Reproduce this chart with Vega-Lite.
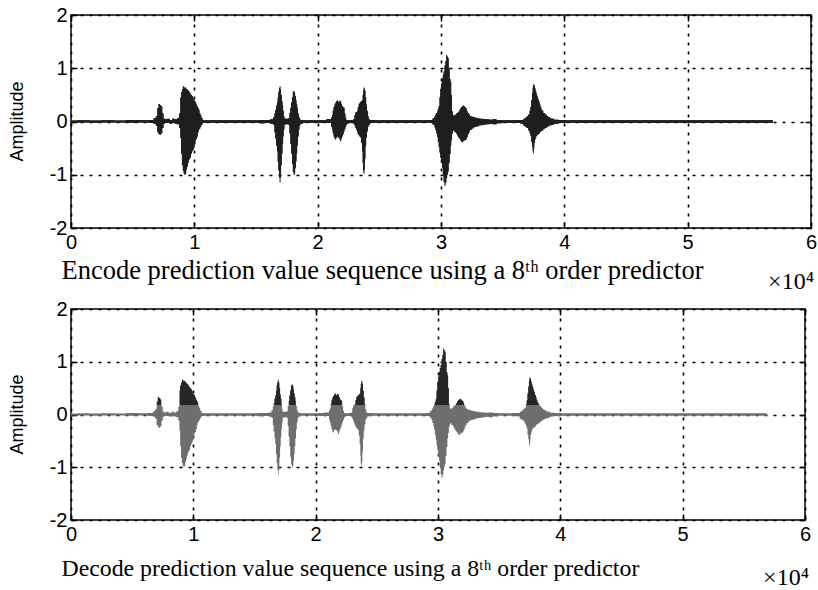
{
  "$schema": "https://vega.github.io/schema/vega-lite/v6.json",
  "background": "white",
  "padding": {"left": 7, "top": 4, "right": 0, "bottom": 0},
  "bounds": "flush",
  "spacing": 81,
  "config": {
    "view": {"stroke": "black", "strokeWidth": 1.5},
    "axis": {
      "grid": true, "gridColor": "black", "gridDash": [3, 6], "gridWidth": 1.6, "gridOpacity": 1,
      "domain": false, "ticks": true, "tickSize": -6, "tickColor": "black", "tickWidth": 1.5,
      "labelFont": "Liberation Sans", "labelFontSize": 20, "labelColor": "black", "labelPadding": 10,
      "labelFlush": false, "labelOverlap": false, "titleColor": "black", "titleFontWeight": "normal",
      "labelExpr": "replace(datum.label, '−', '-')"
    }
  },
  "datasets": {
    "sig": [
      {"x": 0.00, "hi": 0.02, "lo": -0.02, "b": 0},
      {"x": 0.10, "hi": 0.025, "lo": -0.02, "b": 0},
      {"x": 0.20, "hi": 0.02, "lo": -0.025, "b": 0},
      {"x": 0.30, "hi": 0.025, "lo": -0.02, "b": 0},
      {"x": 0.40, "hi": 0.02, "lo": -0.02, "b": 0},
      {"x": 0.50, "hi": 0.03, "lo": -0.025, "b": 0},
      {"x": 0.60, "hi": 0.025, "lo": -0.02, "b": 0},
      {"x": 0.66, "hi": 0.03, "lo": -0.03, "b": 0},
      {"x": 0.68, "hi": 0.06, "lo": -0.04, "b": 1},
      {"x": 0.695, "hi": 0.10, "lo": -0.08, "b": 1},
      {"x": 0.705, "hi": 0.25, "lo": -0.20, "b": 1},
      {"x": 0.715, "hi": 0.33, "lo": -0.24, "b": 1},
      {"x": 0.725, "hi": 0.31, "lo": -0.25, "b": 1},
      {"x": 0.735, "hi": 0.28, "lo": -0.22, "b": 1},
      {"x": 0.745, "hi": 0.15, "lo": -0.12, "b": 1},
      {"x": 0.755, "hi": 0.05, "lo": -0.04, "b": 1},
      {"x": 0.77, "hi": 0.04, "lo": -0.03, "b": 0},
      {"x": 0.79, "hi": 0.05, "lo": -0.03, "b": 0},
      {"x": 0.81, "hi": 0.03, "lo": -0.04, "b": 0},
      {"x": 0.83, "hi": 0.05, "lo": -0.03, "b": 0},
      {"x": 0.85, "hi": 0.04, "lo": -0.04, "b": 0},
      {"x": 0.87, "hi": 0.06, "lo": -0.05, "b": 2},
      {"x": 0.884, "hi": 0.15, "lo": -0.12, "b": 2},
      {"x": 0.889, "hi": 0.45, "lo": -0.31, "b": 2},
      {"x": 0.896, "hi": 0.55, "lo": -0.60, "b": 2},
      {"x": 0.903, "hi": 0.60, "lo": -0.82, "b": 2},
      {"x": 0.911, "hi": 0.66, "lo": -0.92, "b": 2},
      {"x": 0.916, "hi": 0.65, "lo": -0.97, "b": 2},
      {"x": 0.923, "hi": 0.63, "lo": -1.00, "b": 2},
      {"x": 0.930, "hi": 0.64, "lo": -0.98, "b": 2},
      {"x": 0.937, "hi": 0.61, "lo": -0.90, "b": 2},
      {"x": 0.943, "hi": 0.60, "lo": -0.85, "b": 2},
      {"x": 0.950, "hi": 0.58, "lo": -0.78, "b": 2},
      {"x": 0.957, "hi": 0.57, "lo": -0.72, "b": 2},
      {"x": 0.963, "hi": 0.54, "lo": -0.70, "b": 2},
      {"x": 0.970, "hi": 0.52, "lo": -0.67, "b": 2},
      {"x": 0.977, "hi": 0.50, "lo": -0.60, "b": 2},
      {"x": 0.984, "hi": 0.48, "lo": -0.56, "b": 2},
      {"x": 0.991, "hi": 0.44, "lo": -0.53, "b": 2},
      {"x": 0.998, "hi": 0.40, "lo": -0.49, "b": 2},
      {"x": 1.005, "hi": 0.38, "lo": -0.42, "b": 2},
      {"x": 1.011, "hi": 0.36, "lo": -0.35, "b": 2},
      {"x": 1.018, "hi": 0.32, "lo": -0.33, "b": 2},
      {"x": 1.025, "hi": 0.28, "lo": -0.28, "b": 2},
      {"x": 1.032, "hi": 0.25, "lo": -0.20, "b": 2},
      {"x": 1.038, "hi": 0.22, "lo": -0.15, "b": 2},
      {"x": 1.045, "hi": 0.16, "lo": -0.13, "b": 2},
      {"x": 1.052, "hi": 0.12, "lo": -0.10, "b": 2},
      {"x": 1.060, "hi": 0.07, "lo": -0.06, "b": 2},
      {"x": 1.073, "hi": 0.03, "lo": -0.03, "b": 0},
      {"x": 1.10, "hi": 0.025, "lo": -0.025, "b": 0},
      {"x": 1.20, "hi": 0.025, "lo": -0.025, "b": 0},
      {"x": 1.30, "hi": 0.025, "lo": -0.025, "b": 0},
      {"x": 1.40, "hi": 0.025, "lo": -0.025, "b": 0},
      {"x": 1.50, "hi": 0.025, "lo": -0.025, "b": 0},
      {"x": 1.55, "hi": 0.03, "lo": -0.035, "b": 0},
      {"x": 1.60, "hi": 0.03, "lo": -0.03, "b": 0},
      {"x": 1.63, "hi": 0.04, "lo": -0.04, "b": 3},
      {"x": 1.646, "hi": 0.08, "lo": -0.06, "b": 3},
      {"x": 1.653, "hi": 0.15, "lo": -0.20, "b": 3},
      {"x": 1.660, "hi": 0.22, "lo": -0.32, "b": 3},
      {"x": 1.667, "hi": 0.30, "lo": -0.45, "b": 3},
      {"x": 1.673, "hi": 0.36, "lo": -0.56, "b": 3},
      {"x": 1.679, "hi": 0.45, "lo": -0.75, "b": 3},
      {"x": 1.684, "hi": 0.56, "lo": -0.92, "b": 3},
      {"x": 1.690, "hi": 0.62, "lo": -1.05, "b": 3},
      {"x": 1.695, "hi": 0.66, "lo": -1.14, "b": 3},
      {"x": 1.700, "hi": 0.60, "lo": -1.05, "b": 3},
      {"x": 1.706, "hi": 0.50, "lo": -0.82, "b": 3},
      {"x": 1.712, "hi": 0.38, "lo": -0.60, "b": 3},
      {"x": 1.717, "hi": 0.30, "lo": -0.42, "b": 3},
      {"x": 1.722, "hi": 0.20, "lo": -0.28, "b": 3},
      {"x": 1.727, "hi": 0.10, "lo": -0.15, "b": 3},
      {"x": 1.733, "hi": 0.05, "lo": -0.06, "b": 3},
      {"x": 1.745, "hi": 0.05, "lo": -0.05, "b": 0},
      {"x": 1.757, "hi": 0.05, "lo": -0.05, "b": 0},
      {"x": 1.768, "hi": 0.06, "lo": -0.06, "b": 4},
      {"x": 1.775, "hi": 0.16, "lo": -0.22, "b": 4},
      {"x": 1.782, "hi": 0.26, "lo": -0.42, "b": 4},
      {"x": 1.789, "hi": 0.36, "lo": -0.60, "b": 4},
      {"x": 1.795, "hi": 0.46, "lo": -0.80, "b": 4},
      {"x": 1.803, "hi": 0.56, "lo": -0.95, "b": 4},
      {"x": 1.809, "hi": 0.57, "lo": -1.00, "b": 4},
      {"x": 1.814, "hi": 0.54, "lo": -0.98, "b": 4},
      {"x": 1.820, "hi": 0.48, "lo": -0.88, "b": 4},
      {"x": 1.825, "hi": 0.40, "lo": -0.75, "b": 4},
      {"x": 1.831, "hi": 0.33, "lo": -0.60, "b": 4},
      {"x": 1.836, "hi": 0.26, "lo": -0.45, "b": 4},
      {"x": 1.843, "hi": 0.16, "lo": -0.28, "b": 4},
      {"x": 1.849, "hi": 0.09, "lo": -0.15, "b": 4},
      {"x": 1.856, "hi": 0.05, "lo": -0.07, "b": 4},
      {"x": 1.863, "hi": 0.03, "lo": -0.04, "b": 0},
      {"x": 1.90, "hi": 0.025, "lo": -0.025, "b": 0},
      {"x": 1.95, "hi": 0.025, "lo": -0.025, "b": 0},
      {"x": 2.00, "hi": 0.025, "lo": -0.025, "b": 0},
      {"x": 2.05, "hi": 0.03, "lo": -0.03, "b": 0},
      {"x": 2.09, "hi": 0.04, "lo": -0.03, "b": 5},
      {"x": 2.106, "hi": 0.04, "lo": -0.03, "b": 5},
      {"x": 2.113, "hi": 0.08, "lo": -0.10, "b": 5},
      {"x": 2.119, "hi": 0.12, "lo": -0.15, "b": 5},
      {"x": 2.126, "hi": 0.20, "lo": -0.22, "b": 5},
      {"x": 2.133, "hi": 0.27, "lo": -0.28, "b": 5},
      {"x": 2.140, "hi": 0.32, "lo": -0.32, "b": 5},
      {"x": 2.146, "hi": 0.35, "lo": -0.34, "b": 5},
      {"x": 2.153, "hi": 0.38, "lo": -0.30, "b": 5},
      {"x": 2.160, "hi": 0.40, "lo": -0.28, "b": 5},
      {"x": 2.167, "hi": 0.37, "lo": -0.30, "b": 5},
      {"x": 2.174, "hi": 0.36, "lo": -0.30, "b": 5},
      {"x": 2.180, "hi": 0.39, "lo": -0.34, "b": 5},
      {"x": 2.187, "hi": 0.38, "lo": -0.37, "b": 5},
      {"x": 2.194, "hi": 0.33, "lo": -0.32, "b": 5},
      {"x": 2.200, "hi": 0.29, "lo": -0.28, "b": 5},
      {"x": 2.207, "hi": 0.27, "lo": -0.24, "b": 5},
      {"x": 2.214, "hi": 0.26, "lo": -0.19, "b": 5},
      {"x": 2.221, "hi": 0.15, "lo": -0.14, "b": 5},
      {"x": 2.228, "hi": 0.07, "lo": -0.10, "b": 5},
      {"x": 2.235, "hi": 0.03, "lo": -0.06, "b": 5},
      {"x": 2.241, "hi": 0.025, "lo": -0.04, "b": 0},
      {"x": 2.26, "hi": 0.025, "lo": -0.03, "b": 0},
      {"x": 2.28, "hi": 0.03, "lo": -0.03, "b": 0},
      {"x": 2.295, "hi": 0.04, "lo": -0.04, "b": 6},
      {"x": 2.302, "hi": 0.12, "lo": -0.08, "b": 6},
      {"x": 2.309, "hi": 0.17, "lo": -0.12, "b": 6},
      {"x": 2.316, "hi": 0.18, "lo": -0.16, "b": 6},
      {"x": 2.322, "hi": 0.20, "lo": -0.20, "b": 6},
      {"x": 2.329, "hi": 0.27, "lo": -0.24, "b": 6},
      {"x": 2.336, "hi": 0.33, "lo": -0.26, "b": 6},
      {"x": 2.343, "hi": 0.35, "lo": -0.28, "b": 6},
      {"x": 2.349, "hi": 0.37, "lo": -0.30, "b": 6},
      {"x": 2.356, "hi": 0.38, "lo": -0.40, "b": 6},
      {"x": 2.363, "hi": 0.40, "lo": -0.56, "b": 6},
      {"x": 2.367, "hi": 0.50, "lo": -0.78, "b": 6},
      {"x": 2.371, "hi": 0.58, "lo": -0.94, "b": 6},
      {"x": 2.376, "hi": 0.64, "lo": -0.98, "b": 6},
      {"x": 2.380, "hi": 0.62, "lo": -0.90, "b": 6},
      {"x": 2.384, "hi": 0.58, "lo": -0.70, "b": 6},
      {"x": 2.390, "hi": 0.45, "lo": -0.46, "b": 6},
      {"x": 2.396, "hi": 0.32, "lo": -0.30, "b": 6},
      {"x": 2.403, "hi": 0.20, "lo": -0.19, "b": 6},
      {"x": 2.410, "hi": 0.10, "lo": -0.10, "b": 6},
      {"x": 2.417, "hi": 0.04, "lo": -0.06, "b": 0},
      {"x": 2.43, "hi": 0.03, "lo": -0.03, "b": 0},
      {"x": 2.50, "hi": 0.025, "lo": -0.025, "b": 0},
      {"x": 2.60, "hi": 0.025, "lo": -0.025, "b": 0},
      {"x": 2.70, "hi": 0.025, "lo": -0.025, "b": 0},
      {"x": 2.80, "hi": 0.025, "lo": -0.025, "b": 0},
      {"x": 2.88, "hi": 0.025, "lo": -0.025, "b": 0},
      {"x": 2.92, "hi": 0.03, "lo": -0.03, "b": 7},
      {"x": 2.944, "hi": 0.06, "lo": -0.06, "b": 7},
      {"x": 2.951, "hi": 0.10, "lo": -0.11, "b": 7},
      {"x": 2.958, "hi": 0.13, "lo": -0.16, "b": 7},
      {"x": 2.965, "hi": 0.16, "lo": -0.22, "b": 7},
      {"x": 2.971, "hi": 0.19, "lo": -0.29, "b": 7},
      {"x": 2.978, "hi": 0.24, "lo": -0.38, "b": 7},
      {"x": 2.985, "hi": 0.29, "lo": -0.48, "b": 7},
      {"x": 2.991, "hi": 0.45, "lo": -0.58, "b": 7},
      {"x": 2.998, "hi": 0.61, "lo": -0.68, "b": 7},
      {"x": 3.005, "hi": 0.72, "lo": -0.78, "b": 7},
      {"x": 3.012, "hi": 0.81, "lo": -0.87, "b": 7},
      {"x": 3.018, "hi": 0.88, "lo": -1.00, "b": 7},
      {"x": 3.025, "hi": 0.94, "lo": -1.13, "b": 7},
      {"x": 3.033, "hi": 1.05, "lo": -1.20, "b": 7},
      {"x": 3.039, "hi": 1.13, "lo": -1.15, "b": 7},
      {"x": 3.047, "hi": 1.25, "lo": -1.06, "b": 7},
      {"x": 3.052, "hi": 1.22, "lo": -1.00, "b": 7},
      {"x": 3.058, "hi": 1.19, "lo": -0.94, "b": 7},
      {"x": 3.066, "hi": 1.00, "lo": -0.78, "b": 7},
      {"x": 3.074, "hi": 0.80, "lo": -0.61, "b": 7},
      {"x": 3.080, "hi": 0.74, "lo": -0.45, "b": 7},
      {"x": 3.085, "hi": 0.50, "lo": -0.35, "b": 7},
      {"x": 3.093, "hi": 0.19, "lo": -0.23, "b": 7},
      {"x": 3.100, "hi": 0.12, "lo": -0.18, "b": 8},
      {"x": 3.106, "hi": 0.10, "lo": -0.16, "b": 8},
      {"x": 3.113, "hi": 0.12, "lo": -0.20, "b": 8},
      {"x": 3.120, "hi": 0.13, "lo": -0.20, "b": 8},
      {"x": 3.127, "hi": 0.15, "lo": -0.23, "b": 8},
      {"x": 3.133, "hi": 0.16, "lo": -0.26, "b": 8},
      {"x": 3.140, "hi": 0.18, "lo": -0.29, "b": 8},
      {"x": 3.147, "hi": 0.19, "lo": -0.31, "b": 8},
      {"x": 3.153, "hi": 0.22, "lo": -0.33, "b": 8},
      {"x": 3.160, "hi": 0.25, "lo": -0.35, "b": 8},
      {"x": 3.167, "hi": 0.27, "lo": -0.38, "b": 8},
      {"x": 3.174, "hi": 0.28, "lo": -0.39, "b": 8},
      {"x": 3.180, "hi": 0.30, "lo": -0.37, "b": 8},
      {"x": 3.187, "hi": 0.29, "lo": -0.36, "b": 8},
      {"x": 3.194, "hi": 0.27, "lo": -0.34, "b": 8},
      {"x": 3.201, "hi": 0.26, "lo": -0.35, "b": 8},
      {"x": 3.207, "hi": 0.24, "lo": -0.32, "b": 8},
      {"x": 3.214, "hi": 0.19, "lo": -0.29, "b": 8},
      {"x": 3.221, "hi": 0.16, "lo": -0.24, "b": 8},
      {"x": 3.228, "hi": 0.13, "lo": -0.20, "b": 8},
      {"x": 3.242, "hi": 0.10, "lo": -0.16, "b": 8},
      {"x": 3.255, "hi": 0.09, "lo": -0.13, "b": 8},
      {"x": 3.268, "hi": 0.08, "lo": -0.11, "b": 8},
      {"x": 3.282, "hi": 0.07, "lo": -0.10, "b": 8},
      {"x": 3.296, "hi": 0.06, "lo": -0.09, "b": 8},
      {"x": 3.323, "hi": 0.05, "lo": -0.07, "b": 8},
      {"x": 3.350, "hi": 0.045, "lo": -0.06, "b": 8},
      {"x": 3.377, "hi": 0.04, "lo": -0.05, "b": 8},
      {"x": 3.404, "hi": 0.035, "lo": -0.045, "b": 8},
      {"x": 3.43, "hi": 0.04, "lo": -0.05, "b": 8},
      {"x": 3.47, "hi": 0.03, "lo": -0.035, "b": 0},
      {"x": 3.52, "hi": 0.025, "lo": -0.025, "b": 0},
      {"x": 3.58, "hi": 0.025, "lo": -0.025, "b": 0},
      {"x": 3.63, "hi": 0.03, "lo": -0.03, "b": 0},
      {"x": 3.661, "hi": 0.03, "lo": -0.04, "b": 9},
      {"x": 3.675, "hi": 0.05, "lo": -0.08, "b": 9},
      {"x": 3.688, "hi": 0.07, "lo": -0.10, "b": 9},
      {"x": 3.700, "hi": 0.10, "lo": -0.12, "b": 9},
      {"x": 3.715, "hi": 0.13, "lo": -0.17, "b": 9},
      {"x": 3.722, "hi": 0.20, "lo": -0.22, "b": 9},
      {"x": 3.728, "hi": 0.27, "lo": -0.27, "b": 9},
      {"x": 3.735, "hi": 0.40, "lo": -0.38, "b": 9},
      {"x": 3.741, "hi": 0.53, "lo": -0.47, "b": 9},
      {"x": 3.746, "hi": 0.64, "lo": -0.56, "b": 9},
      {"x": 3.750, "hi": 0.70, "lo": -0.60, "b": 9},
      {"x": 3.754, "hi": 0.69, "lo": -0.50, "b": 9},
      {"x": 3.758, "hi": 0.67, "lo": -0.40, "b": 9},
      {"x": 3.764, "hi": 0.62, "lo": -0.34, "b": 9},
      {"x": 3.769, "hi": 0.57, "lo": -0.30, "b": 9},
      {"x": 3.776, "hi": 0.52, "lo": -0.27, "b": 9},
      {"x": 3.782, "hi": 0.47, "lo": -0.25, "b": 9},
      {"x": 3.789, "hi": 0.42, "lo": -0.24, "b": 9},
      {"x": 3.796, "hi": 0.37, "lo": -0.23, "b": 9},
      {"x": 3.803, "hi": 0.32, "lo": -0.20, "b": 9},
      {"x": 3.809, "hi": 0.27, "lo": -0.19, "b": 9},
      {"x": 3.816, "hi": 0.23, "lo": -0.18, "b": 9},
      {"x": 3.823, "hi": 0.20, "lo": -0.17, "b": 9},
      {"x": 3.836, "hi": 0.16, "lo": -0.14, "b": 9},
      {"x": 3.850, "hi": 0.13, "lo": -0.12, "b": 9},
      {"x": 3.863, "hi": 0.10, "lo": -0.10, "b": 9},
      {"x": 3.877, "hi": 0.08, "lo": -0.08, "b": 9},
      {"x": 3.890, "hi": 0.06, "lo": -0.07, "b": 9},
      {"x": 3.904, "hi": 0.05, "lo": -0.06, "b": 9},
      {"x": 3.931, "hi": 0.035, "lo": -0.04, "b": 9},
      {"x": 3.972, "hi": 0.03, "lo": -0.03, "b": 0},
      {"x": 4.05, "hi": 0.025, "lo": -0.025, "b": 0},
      {"x": 4.30, "hi": 0.025, "lo": -0.025, "b": 0},
      {"x": 4.60, "hi": 0.025, "lo": -0.025, "b": 0},
      {"x": 4.90, "hi": 0.025, "lo": -0.025, "b": 0},
      {"x": 5.20, "hi": 0.025, "lo": -0.025, "b": 0},
      {"x": 5.50, "hi": 0.025, "lo": -0.025, "b": 0},
      {"x": 5.69, "hi": 0.025, "lo": -0.025, "b": 0}
    ]
  },
  "vconcat": [
    {
      "width": 740,
      "height": 213,
      "layer": [
        {
          "data": {"name": "sig"},
          "mark": {"type": "area", "color": "#1e1e1e", "interpolate": "step"},
          "encoding": {
            "x": {"field": "x", "type": "quantitative", "scale": {"domain": [0, 6], "nice": false, "zero": false},
              "axis": {"orient": "bottom", "values": [0, 1, 2, 3, 4, 5, 6],
                "title": "Encode prediction value sequence using a 8ᵗʰ order predictor",
                "titleFont": "Liberation Serif", "titleFontSize": 26.5, "titleAnchor": "start", "titleAlign": "left",
                "titleBaseline": "alphabetic", "titleX": -10, "titleY": 50}},
            "y": {"field": "lo", "type": "quantitative", "scale": {"domain": [-2, 2], "nice": false, "zero": false},
              "axis": {"orient": "left", "values": [-2, -1, 0, 1, 2], "title": "Amplitude",
                "titleFont": "Liberation Sans", "titleFontSize": 18, "titleX": -54, "titleY": 106,
                "titleBaseline": "middle", "titleAlign": "center"}},
            "y2": {"field": "hi"}
          }
        },
        {
          "data": {"name": "sig"},
          "mark": {"type": "area", "color": "#1e1e1e", "interpolate": "step"},
          "encoding": {
            "x": {"field": "x", "type": "quantitative",
              "axis": {"orient": "top", "values": [0, 1, 2, 3, 4, 5, 6], "labels": false, "grid": false, "title": null}},
            "y": {"field": "lo", "type": "quantitative",
              "axis": {"orient": "right", "values": [-2, -1, 0, 1, 2], "labels": false, "grid": false, "title": null}},
            "y2": {"field": "hi"}
          }
        },
        {
          "data": {"values": [{}]},
          "mark": {"type": "text", "align": "right", "baseline": "alphabetic", "font": "Liberation Serif", "fontSize": 24, "dx": 3, "dy": 61, "color": "black"},
          "encoding": {
            "x": {"datum": 6, "type": "quantitative", "axis": null},
            "y": {"datum": -2, "type": "quantitative", "axis": null},
            "text": {"value": "×10⁴"}
          }
        }
      ]
    },
    {
      "width": 734,
      "height": 211,
      "layer": [
        {
          "data": {"name": "sig"},
          "mark": {"type": "area", "color": "#6e6e6e", "interpolate": "step"},
          "encoding": {
            "x": {"field": "x", "type": "quantitative", "scale": {"domain": [0, 6], "nice": false, "zero": false},
              "axis": {"orient": "bottom", "values": [0, 1, 2, 3, 4, 5, 6],
                "title": "Decode prediction value sequence using a 8ᵗʰ order predictor",
                "titleFont": "Liberation Serif", "titleFontSize": 23.8, "titleAnchor": "start", "titleAlign": "left",
                "titleBaseline": "alphabetic", "titleX": -10, "titleY": 55}},
            "y": {"field": "lo", "type": "quantitative", "scale": {"domain": [-2, 2], "nice": false, "zero": false},
              "axis": {"orient": "left", "values": [-2, -1, 0, 1, 2], "title": "Amplitude",
                "titleFont": "Liberation Sans", "titleFontSize": 18, "titleX": -54, "titleY": 105,
                "titleBaseline": "middle", "titleAlign": "center"}},
            "y2": {"field": "hi"}
          }
        },
        {
          "data": {"name": "sig"},
          "transform": [{"filter": "datum.b > 0 && datum.hi > 0.18"}],
          "mark": {"type": "area", "color": "#262626", "interpolate": "step"},
          "encoding": {
            "x": {"field": "x", "type": "quantitative",
              "axis": {"orient": "top", "values": [0, 1, 2, 3, 4, 5, 6], "labels": false, "grid": false, "title": null}},
            "y": {"field": "hi", "type": "quantitative",
              "axis": {"orient": "right", "values": [-2, -1, 0, 1, 2], "labels": false, "grid": false, "title": null}},
            "y2": {"datum": 0.18},
            "detail": {"field": "b", "type": "nominal"}
          }
        },
        {
          "data": {"values": [{}]},
          "mark": {"type": "text", "align": "right", "baseline": "alphabetic", "font": "Liberation Serif", "fontSize": 24, "dx": 4, "dy": 65, "color": "black"},
          "encoding": {
            "x": {"datum": 6, "type": "quantitative", "axis": null},
            "y": {"datum": -2, "type": "quantitative", "axis": null},
            "text": {"value": "×10⁴"}
          }
        }
      ]
    }
  ]
}
